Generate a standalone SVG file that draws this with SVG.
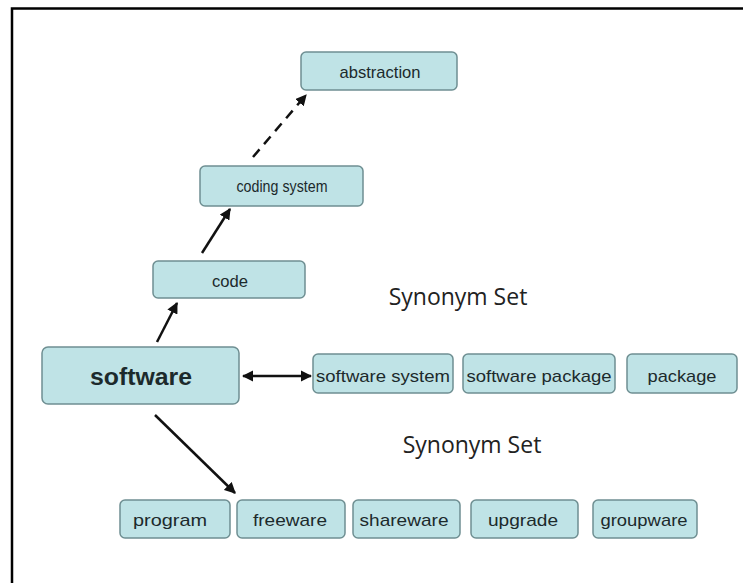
<svg xmlns="http://www.w3.org/2000/svg" width="743" height="583" viewBox="0 0 743 583">
<style>
.box{fill:#bfe3e6;stroke:#6f8f92;stroke-width:1.5}
.t{font-family:"Liberation Sans",Arial,sans-serif;font-size:17px;fill:#1c2a2c;text-anchor:middle;dominant-baseline:central}
.big{font-size:23px;font-weight:bold}
.syn{font-family:"Open Sans","Liberation Sans",sans-serif;font-size:23px;fill:#222;text-anchor:middle;dominant-baseline:central}
.c{stroke:#111;stroke-width:2.5;fill:none}
</style>
<defs>
<marker id="ah" viewBox="0 0 10 10" refX="9" refY="5" markerWidth="4.5" markerHeight="4.5" orient="auto-start-reverse" markerUnits="strokeWidth">
<path d="M0,0 L10,5 L0,10 z" fill="#111"/>
</marker>
</defs>
<rect width="743" height="583" fill="#fff"/>
<path d="M12,583 V8.5 H743" fill="none" stroke="#000" stroke-width="2.5"/>
<g id="connectors">
<line class="c" x1="202" y1="253" x2="230" y2="209" marker-end="url(#ah)"/>
<line class="c" x1="253" y1="157" x2="306" y2="95" stroke-dasharray="10,7" marker-end="url(#ah)"/>
<line class="c" x1="157" y1="342" x2="177" y2="303" marker-end="url(#ah)"/>
<line class="c" x1="243" y1="376" x2="311" y2="376" marker-start="url(#ah)" marker-end="url(#ah)"/>
<line class="c" x1="155" y1="415" x2="235" y2="493" marker-end="url(#ah)"/>
</g>
<g id="abstraction"><rect class="box" x="301" y="52" width="156" height="38" rx="5"/><text class="t" x="380" y="72" textLength="81" lengthAdjust="spacingAndGlyphs">abstraction</text></g>
<g id="coding-system"><rect class="box" x="200" y="166" width="163" height="40" rx="5"/><text class="t" x="282" y="186" textLength="91" lengthAdjust="spacingAndGlyphs">coding system</text></g>
<g id="code"><rect class="box" x="153" y="261" width="152" height="37" rx="5"/><text class="t" x="230" y="281" textLength="36" lengthAdjust="spacingAndGlyphs">code</text></g>
<g id="software"><rect class="box" x="42" y="347" width="197" height="57" rx="6"/><text class="t big" x="141" y="377" textLength="102" lengthAdjust="spacingAndGlyphs">software</text></g>
<g id="software-system"><rect class="box" x="313" y="354" width="140" height="39" rx="5"/><text class="t" x="383" y="376" textLength="134" lengthAdjust="spacingAndGlyphs">software system</text></g>
<g id="software-package"><rect class="box" x="463" y="354" width="152" height="39" rx="5"/><text class="t" x="539" y="376" textLength="145" lengthAdjust="spacingAndGlyphs">software package</text></g>
<g id="package"><rect class="box" x="627" y="354" width="110" height="39" rx="5"/><text class="t" x="682" y="376" textLength="69" lengthAdjust="spacingAndGlyphs">package</text></g>
<g id="synonym-set-1"><text class="syn" x="458" y="296">Synonym Set</text></g>
<g id="synonym-set-2"><text class="syn" x="472" y="444">Synonym Set</text></g>
<g id="program"><rect class="box" x="120" y="500" width="110" height="38" rx="5"/><text class="t" x="170" y="520" textLength="74" lengthAdjust="spacingAndGlyphs">program</text></g>
<g id="freeware"><rect class="box" x="237" y="500" width="108" height="38" rx="5"/><text class="t" x="290" y="520" textLength="74" lengthAdjust="spacingAndGlyphs">freeware</text></g>
<g id="shareware"><rect class="box" x="353" y="500" width="107" height="38" rx="5"/><text class="t" x="404" y="520" textLength="89" lengthAdjust="spacingAndGlyphs">shareware</text></g>
<g id="upgrade"><rect class="box" x="471" y="500" width="107" height="38" rx="5"/><text class="t" x="523" y="520" textLength="70" lengthAdjust="spacingAndGlyphs">upgrade</text></g>
<g id="groupware"><rect class="box" x="593" y="500" width="104" height="38" rx="5"/><text class="t" x="644" y="520" textLength="87" lengthAdjust="spacingAndGlyphs">groupware</text></g>
</svg>
